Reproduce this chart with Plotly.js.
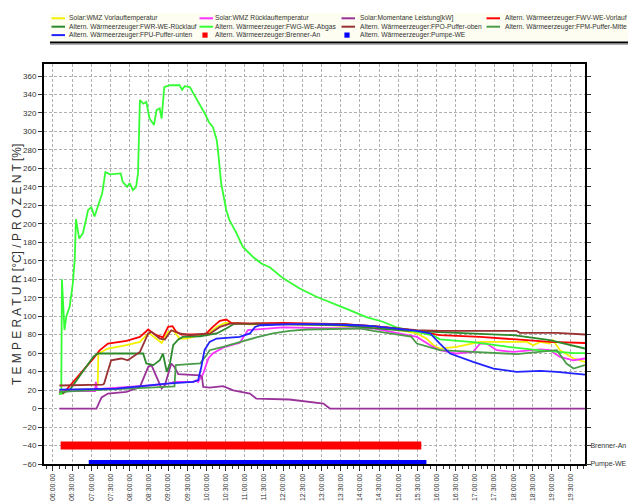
<!DOCTYPE html>
<html><head><meta charset="utf-8">
<script src="https://cdn.plot.ly/plotly-3.0.1.min.js"></script>
<style>html,body{margin:0;padding:0;background:#fff}#chart{width:628px;height:501px}</style>
</head><body><div id="chart"></div>
<script>
const DAY = '2020-01-01 ';

// ---- data: [time, value] ----
const solarVorlauf = [["06:10",20],["07:05",21],["07:10",27],["07:11",59.6],["07:26",65],["07:55",68.6],["08:16",72.2],["08:26",79.4],["08:31",81.3],["08:42",74.8],["08:50",71],["09:00",83],["09:08",84.8],["09:18",75.8],["09:29",75.8],["09:50",79.4],["10:00",79.4],["10:16",88.4],["10:29",92.7],["11:08",91.3],["12:00",91.3],["13:18",90.2],["14:47",86.7],["15:29",81.3],["15:44",75.8],["15:55",68.6],["16:05",65],["16:31",66.7],["16:57",70.4],["17:08",72.2],["18:21",72.2],["18:31",68.6],["18:42",72.2],["18:57",70.4],["19:02",74],["19:13",63.2],["19:34",54.2],["19:52",50.5]];
const solarRuecklauf = [["06:10",19],["07:06",19],["07:07",29],["07:09",21],["08:30",25],["09:00",27],["09:10",28.8],["09:40",29],["09:44",30.6],["09:47",28.8],["09:55",37.9],["10:03",54.2],["10:10",59.6],["10:26",66],["10:47",70.4],["10:52",71],["11:05",85],["12:00",88],["13:00",87],["13:34",86.7],["14:21",86.7],["15:29",77.6],["15:50",68.6],["16:05",63.2],["16:31",59.6],["16:57",61.3],["17:08",70.4],["17:18",70.4],["17:34",63.2],["18:00",61.3],["18:42",64],["18:57",63.2],["19:13",55.9],["19:34",52.3],["19:52",54.2]];
const momentaneLeistung = [["06:10",0],["07:08",0],["07:16",12],["07:26",16.3],["07:55",18],["08:16",23.4],["08:29",45],["08:34",47],["08:42",34.2],["08:50",21.7],["08:55",25.2],["09:05",48.8],["09:10",45],["09:16",37.2],["09:50",36],["09:53",34.2],["09:55",23.4],["10:05",22.7],["10:26",24.2],["10:42",19.8],["11:08",16.3],["11:18",10.8],["12:10",9.8],["13:03",5.4],["13:13",0],["19:52",0]];
const fwvVorlauf = [["06:10",18],["06:16",16.3],["07:03",54],["07:13",63],["07:26",70.4],["07:55",73.2],["08:16",77.6],["08:29",85.6],["08:34",83],["08:42",79.4],["08:52",77],["09:00",88.4],["09:07",89.2],["09:13",83],["09:21",80.2],["09:50",80.2],["10:00",81.3],["10:10",88.4],["10:21",95],["10:31",96.4],["10:39",92.7],["11:08",92],["12:00",92.7],["12:52",92],["13:34",91.3],["14:21",89.2],["15:13",85.6],["16:05",79.4],["17:08",77.6],["18:05",74.8],["18:57",72.2],["19:52",71]];
const fwrRuecklauf = [["06:10",15.5],["06:26",19.8],["07:03",56],["07:10",59.6],["08:21",59.6],["08:26",48.8],["08:37",47],["08:47",52.3],["08:52",59.6],["08:58",39.7],["09:03",48.8],["09:08",68.6],["09:16",74.8],["09:23",77.6],["09:50",78.3],["10:16",81.3],["10:31",86.7],["10:44",92],["12:00",91.5],["13:34",90],["14:21",87],["15:13",84],["15:55",83],["16:57",81.3],["18:00",79.4],["18:57",74],["19:52",65]];
const fwgAbgas = [["06:10",16],["06:13",16],["06:14",140],["06:18",85],["06:21",100],["06:26",110],["06:29",125],["06:31",135],["06:34",161],["06:36",205],["06:41",184],["06:47",190],["06:55",215],["07:00",218],["07:05",208],["07:10",218],["07:17",233],["07:22",256],["07:29",253.5],["07:46",254.6],["07:49",245.5],["07:56",240],["08:00",244],["08:05",236.5],["08:10",240],["08:13",254.6],["08:16",334],["08:21",330],["08:26",332],["08:31",314],["08:38",307],["08:42",323],["08:47",325],["08:50",314],["08:54",348],["09:03",350],["09:18",350],["09:22",345],["09:26",349],["09:34",348],["09:44",336],["09:57",320],["10:04",310],["10:10",305],["10:16",291],["10:18",280],["10:23",244],["10:31",215],["10:36",204],["10:42",197],["10:47",190],["10:57",175],["11:13",164],["11:26",157],["11:39",153],["12:00",141],["12:26",130],["12:52",121],["13:18",114],["13:44",106.5],["14:10",99],["14:36",94],["14:57",88],["15:29",83],["15:55",79],["16:05",75],["16:57",72],["17:50",67],["18:42",63],["19:34",60],["19:52",60]];
const fpoPufferOben = [["06:10",25],["07:18",26],["07:20",27],["07:31",52.3],["07:47",54.2],["07:57",52.3],["08:16",61.3],["08:29",81.3],["08:34",83],["08:47",75.8],["08:55",74.8],["09:05",84.8],["09:18",81.3],["09:34",79.4],["09:50",80.5],["10:06",81.3],["10:21",88.4],["10:37",92],["11:08",92],["12:52",91.3],["13:34",91.5],["14:21",89.2],["15:29",84.8],["16:05",84],["18:05",84],["18:10",82],["19:08",82],["19:52",80.2]];
const fpmPufferMitte = [["06:10",18],["09:10",24],["09:12",47],["09:47",48.8],["09:50",48.8],["10:00",57.7],["10:05",63.2],["10:26",66.7],["10:52",72.2],["11:18",77],["11:44",81.3],["12:10",84],["12:37",85.6],["13:03",86],["13:29",86.7],["14:00",86.7],["14:21",84],["15:13",79.4],["15:20",78],["15:29",70.4],["16:05",63.2],["16:57",61.3],["18:05",59],["19:08",63.2],["19:23",48.8],["19:34",43.3],["19:52",47]];
const fpuPufferUnten = [["06:10",20.5],["07:39",21.7],["08:31",25.2],["08:58",27],["09:39",28.8],["09:47",30.6],["09:52",45],["09:57",63.2],["10:05",72.2],["10:16",75.8],["10:52",77.6],["11:08",81.3],["11:16",88.4],["11:24",90.2],["12:10",91.3],["13:03",91.3],["13:55",90.2],["14:21",89.2],["15:29",84],["15:50",81.3],["16:05",70.4],["16:21",59.6],["16:57",50.5],["17:29",43.3],["18:05",39.7],["18:42",40.7],["19:08",39.7],["19:52",36.8]];
const brennerAn = [["06:12",-40],["15:36",-40]];
const pumpeWE = [["06:56",-60],["15:44",-60]];

const legendLabels = [
  "Solar:WMZ Vorlauftemperatur","Solar:WMZ Rücklauftemperatur","Solar:Momentane Leistung[kW]","Altern. Wärmeerzeuger:FWV-WE-Vorlauf",
  "Altern. Wärmeerzeuger:FWR-WE-Rücklauf","Altern. Wärmeerzeuger:FWG-WE-Abgas","Altern. Wärmeerzeuger:FPO-Puffer-oben","Altern. Wärmeerzeuger:FPM-Puffer-Mitte",
  "Altern. Wärmeerzeuger:FPU-Puffer-unten","Altern. Wärmeerzeuger:Brenner-An","Altern. Wärmeerzeuger:Pumpe-WE"];
const rightTickVals = [-40, -60];
const rightTickText = ["Brenner-An", "Pumpe-WE"];
const yTitle = "T E M P E R A T U R [°C] / P R O Z E N T [%]";

// ---- styling ----
const seriesList = [solarVorlauf, solarRuecklauf, momentaneLeistung, fwvVorlauf, fwrRuecklauf, fwgAbgas, fpoPufferOben, fpmPufferMitte, fpuPufferUnten, brennerAn, pumpeWE];
const colors = ['#f2f200','#ff33ff','#993399','#ff0000','#2b8a2b','#33ff33','#993333','#4a9e4a','#2222ff','#ff0000','#0000ff'];
const kinds = ['line','line','line','line','line','line','line','line','line','square','square'];

const traces = seriesList.map((s, i) => ({
  type: 'scatter', mode: 'lines',
  x: s.map(p => DAY + p[0]), y: s.map(p => p[1]),
  name: legendLabels[i],
  line: {color: colors[i], width: kinds[i] === 'square' ? 8 : 1.8},
  yaxis: kinds[i] === 'square' ? 'y2' : 'y',
  hoverinfo: 'skip', showlegend: false
}));

const L = 44, T = 64, W = 541, H = 400;
const px = v => (v - L) / W;
const py = v => (T + H - v) / H;

const shapes = [];
const annotations = [];
// legend box
shapes.push({type:'rect', xref:'paper', yref:'paper', x0:px(50), x1:px(640), y0:py(41), y1:py(13), fillcolor:'#fdfdf2', line:{width:0}, layer:'below'});
shapes.push({type:'line', xref:'paper', yref:'paper', x0:px(50), x1:px(640), y0:py(42.5), y1:py(42.5), line:{color:'#000', width:2}});
shapes.push({type:'line', xref:'paper', yref:'paper', x0:px(50), x1:px(640), y0:py(44.2), y1:py(44.2), line:{color:'#888', width:1}});
const colLine = [51.5, 199.5, 341.5, 486.5];
const colText = [66.5, 212.5, 358, 503];
const rowY = [18.3, 26.7, 35.1];
legendLabels.forEach((lab, i) => {
  const c = i % 4, r = Math.floor(i / 4);
  const y = rowY[r];
  if (kinds[i] === 'line') {
    shapes.push({type:'line', xref:'paper', yref:'paper', x0:px(colLine[c]), x1:px(colLine[c]+13.5), y0:py(y), y1:py(y), line:{color:colors[i], width:2}});
  } else {
    const cx = colLine[c] + 5.5;
    shapes.push({type:'rect', xref:'paper', yref:'paper', x0:px(cx-2.6), x1:px(cx+2.6), y0:py(y+2.6), y1:py(y-2.6), fillcolor:colors[i], line:{width:0}});
  }
  annotations.push({xref:'paper', yref:'paper', x:px(colText[c]), y:py(y), xanchor:'left', yanchor:'middle', text:lab, showarrow:false, font:{size:6.7, color:'#333'}});
});
annotations.push({xref:'paper', yref:'paper', x:px(17), y:py(265), xanchor:'center', yanchor:'middle', textangle:-90, text:yTitle, showarrow:false, font:{size:12, color:'#333'}});

const yRange = [-60, 373];
const layout = {
  width: 628, height: 501,
  margin: {l: L, r: 628 - L - W, t: T, b: 501 - T - H, pad: 0},
  paper_bgcolor: '#fff', plot_bgcolor: '#fff',
  font: {family: '"Liberation Sans", Arial, sans-serif', color: '#333'},
  showlegend: false,
  xaxis: {
    type: 'date', range: [DAY + '05:46', DAY + '19:52'],
    tick0: DAY + '06:00', dtick: 30 * 60 * 1000, tickformat: '%H:%M:%S',
    tickangle: -90, tickfont: {size: 7, color: '#333'},
    ticks: 'outside', ticklen: 5, tickcolor: '#333', tickwidth: 1,
    minor: {dtick: 10 * 60 * 1000, ticks: 'outside', ticklen: 2.5, tickcolor: '#333', showgrid: false},
    showgrid: true, gridcolor: '#b0b0b0', griddash: '3px,2px', gridwidth: 1,
    showline: true, linecolor: '#000', linewidth: 2, mirror: true, zeroline: false
  },
  yaxis: {
    range: yRange, tick0: 0, dtick: 20,
    tickfont: {size: 8, color: '#333'},
    ticks: 'outside', ticklen: 4, tickcolor: '#333',
    showgrid: true, gridcolor: '#b0b0b0', griddash: '3px,2px', gridwidth: 1,
    showline: true, linecolor: '#000', linewidth: 2, mirror: 'ticks', zeroline: false
  },
  yaxis2: {
    overlaying: 'y', side: 'right', range: yRange,
    tickvals: rightTickVals, ticktext: rightTickText,
    tickfont: {size: 7, color: '#333'}, ticks: 'outside', ticklen: 3, tickcolor: '#333',
    showgrid: false, zeroline: false, showline: false
  },
  shapes: shapes, annotations: annotations
};

Plotly.newPlot('chart', traces, layout, {staticPlot: true, displayModeBar: false});
</script>
</body></html>
